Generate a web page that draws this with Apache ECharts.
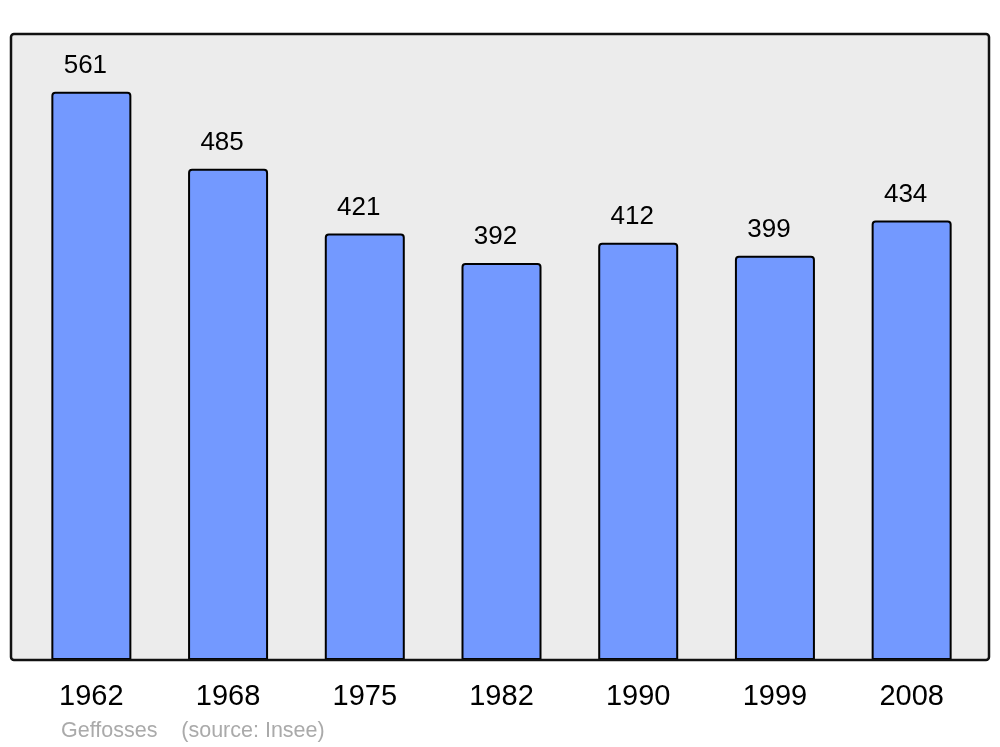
<!DOCTYPE html>
<html>
<head>
<meta charset="utf-8">
<script src="https://cdn.jsdelivr.net/npm/echarts@6/dist/echarts.min.js"></script>
<style>html,body{margin:0;padding:0;background:#fff;}#c{width:1000px;height:747px;}</style>
</head>
<body>
<div id="c"></div>
<script>
const years = ['1962', '1968', '1975', '1982', '1990', '1999', '2008'];
const population = [561, 485, 421, 392, 412, 399, 434];
const footerText = 'Geffosses    (source: Insee)';

const chart = echarts.init(document.getElementById('c'), null, {renderer: 'canvas'});
chart.setOption({
  animation: false,
  backgroundColor: '#ffffff',
  grid: {left: 23, right: 20, top: 34, bottom: 87},
  xAxis: {
    type: 'category',
    data: years,
    axisLine: {show: false},
    axisTick: {show: false},
    axisLabel: {color: '#000', fontSize: 29, fontFamily: 'Liberation Sans', margin: 22}
  },
  yAxis: {
    type: 'value', min: 0, max: 618, show: false, splitLine: {show: false}
  },
  graphic: [
    {type: 'rect', z: -10, shape: {x: 11, y: 34, width: 978, height: 626, r: 3},
     style: {fill: '#ececec', stroke: null}},
    {type: 'rect', z: 100, shape: {x: 11, y: 34, width: 978, height: 626, r: 3},
     style: {fill: 'transparent', stroke: '#111', lineWidth: 2.5}},
    {type: 'text', left: 61, top: 720, z: 100,
     style: {text: footerText, fill: '#aaaaaa', font: '21.5px "Liberation Sans"'}}
  ],
  series: [{
    type: 'bar',
    data: population,
    barWidth: 80,
    itemStyle: {color: '#7399ff', borderColor: '#000', borderWidth: 2, borderRadius: [3, 3, 0, 0]},
    label: {show: true, position: 'top', distance: 13, offset: [-6, 0], color: '#000', fontSize: 26, fontFamily: 'Liberation Sans'}
  }]
});
</script>
</body>
</html>
